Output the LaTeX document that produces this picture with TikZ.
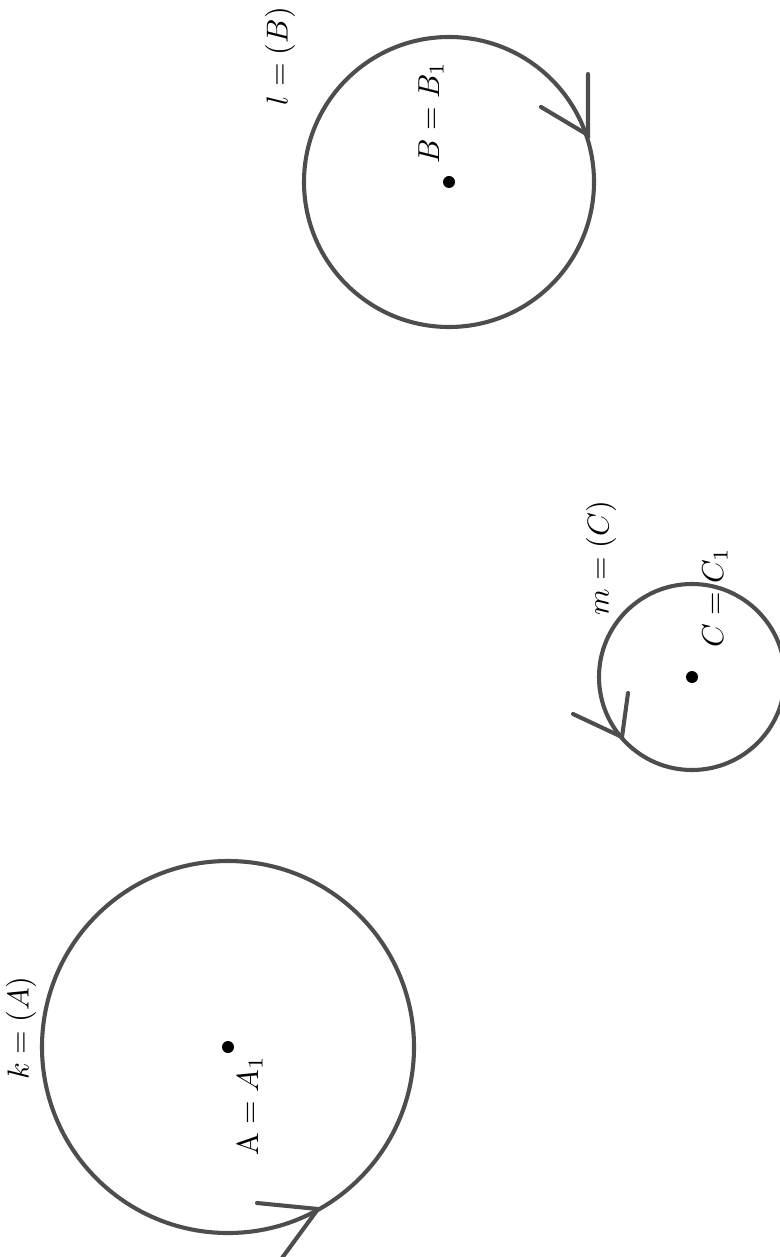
\documentclass[tikz,border=0pt]{standalone}
\begin{document}
\begin{tikzpicture}[x=0.33pt,y=-0.33pt,
  circ/.style={draw=curve,line width=1.35pt},
  barb/.style={draw=curve,line width=1.35pt,line cap=round},
  lab/.style={rotate=90,inner sep=0pt,font=\fontsize{10}{12}\selectfont},
  pt/.style={fill=black}]
\definecolor{curve}{RGB}{77,77,77}
\useasboundingbox (0,0) rectangle (779,1257);
% centres
\coordinate (A) at (228,1047);
\coordinate (B) at (449,182);
\coordinate (C) at (692,677);
% circles
\draw[circ] (A) circle [radius=186];
\draw[circ] (B) circle [radius=145];
\draw[circ] (C) circle [radius=93];
% orientation arrows
\coordinate (tB) at (588,135);
\coordinate (bB1) at (588,74);
\coordinate (bB2) at (541,107);
\draw[barb] (bB1) -- (tB) -- (bB2);
\coordinate (tC) at (622,737);
\coordinate (bC1) at (628,693);
\coordinate (bC2) at (573,714);
\draw[barb] (bC1) -- (tC) -- (bC2);
\coordinate (tA) at (318,1209);
\coordinate (bA1) at (257,1203);
\coordinate (bA2) at (282,1258);
\draw[barb] (bA1) -- (tA) -- (bA2);
% points
\fill[pt] (A) circle [radius=6];
\fill[pt] (B) circle [radius=6];
\fill[pt] (C) circle [radius=6];
% labels
\node[lab] (lB) at (280,56) {$l=(B)$};
\node[lab] (pB) at (431,113) {$B=B_1$};
\node[lab] (lC) at (601,558) {$m=(C)$};
\node[lab] (pC) at (715,598) {$C=C_1$};
\node[lab] (lA) at (21,1028) {$k=(A)$};
\node[lab] (pA) at (250,1106) {$\mathrm{A}=A_1$};
\end{tikzpicture}
\end{document}
